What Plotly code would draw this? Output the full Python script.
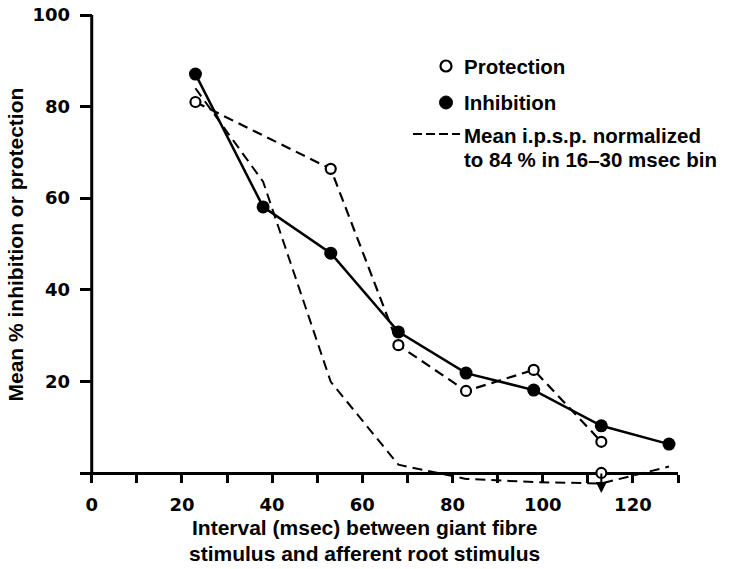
import plotly.graph_objects as go

# ---------------- data ----------------
interval = [23, 38, 53, 68, 83, 98, 113, 128]
inhibition = [87.1, 58.1, 48.0, 30.8, 21.8, 18.1, 10.3, 6.3]

protection_x = [23, 53, 68, 83, 98, 113]
protection = [81.0, 66.4, 27.9, 17.9, 22.5, 6.8]
protection_extra_x = [113]
protection_extra = [0.0]

ipsp_x = [23, 38, 53, 68, 83, 98, 113, 128]
ipsp = [84.0, 63.6, 19.9, 1.8, -1.3, -2.0, -2.3, 1.4]

x_tickvals = [0, 10, 20, 30, 40, 50, 60, 70, 80, 90, 100, 110, 120, 130]
x_ticktext = ["0", "", "20", "", "40", "", "60", "", "80", "", "100", "", "120", ""]
y_tickvals = [20, 40, 60, 80, 100]
y_ticktext = ["20", "40", "60", "80", "100"]

legend_labels = ["Protection", "Inhibition", "Mean i.p.s.p. normalized",
                 "to 84 % in 16\u201330 msec bin"]
x_title = ["Interval (msec) between giant fibre", "stimulus and afferent root stimulus"]
y_title = "Mean % inhibition or protection"

# ---------------- layout geometry ----------------
# The page body margin is removed by a small post script, so the figure
# fills the window and page pixels equal figure pixels.
W, H = 737, 569
PLOT_L, PLOT_R, PLOT_T, PLOT_B = 80, 678, 15, 505
ML, MT = PLOT_L, PLOT_T
MR, MB = W - PLOT_R, H - PLOT_B
PW, PH = PLOT_R - PLOT_L, PLOT_B - PLOT_T
X_RANGE = [-2.6, 130]
Y_RANGE = [-7, 100]


def px(xp):
    return (xp - PLOT_L) / PW


def py(yp):
    return 1 - (yp - PLOT_T) / PH


TEXT_FONT = dict(family="Liberation Sans, Arial, sans-serif", size=21,
                 color="black", weight="bold")
TICK_FONT = dict(family="DejaVu Sans, sans-serif", size=18, color="black",
                 weight="bold")

fig = go.Figure()

fig.add_trace(go.Scatter(
    x=ipsp_x, y=ipsp, mode="lines",
    line=dict(color="black", width=2, dash="10px,6px"),
    showlegend=False, hoverinfo="skip", cliponaxis=False))

fig.add_trace(go.Scatter(
    x=protection_x, y=protection, mode="lines",
    line=dict(color="black", width=2.2, dash="10px,6px"),
    showlegend=False, hoverinfo="skip", cliponaxis=False))

fig.add_trace(go.Scatter(
    x=interval, y=inhibition, mode="lines+markers",
    line=dict(color="black", width=2.5),
    marker=dict(symbol="circle", size=13, color="black"),
    showlegend=False, hoverinfo="skip", cliponaxis=False))

fig.add_trace(go.Scatter(
    x=protection_x + protection_extra_x, y=protection + protection_extra,
    mode="markers",
    marker=dict(symbol="circle", size=10, color="white",
                line=dict(color="black", width=2.2)),
    showlegend=False, hoverinfo="skip", cliponaxis=False))

# y axis line from 0 to 100 at x = 0
shapes = [
    dict(type="line", xref="x", yref="y", x0=0, x1=0, y0=-0.4, y1=100,
         line=dict(color="black", width=3), layer="below"),
]

# legend symbols
shapes += [
    dict(type="circle", xref="paper", yref="paper", xsizemode="pixel",
         ysizemode="pixel", xanchor=px(446), yanchor=py(66),
         x0=-5.5, x1=5.5, y0=-5.5, y1=5.5,
         line=dict(color="black", width=2.2), fillcolor="white"),
    dict(type="circle", xref="paper", yref="paper", xsizemode="pixel",
         ysizemode="pixel", xanchor=px(446), yanchor=py(102.5),
         x0=-6.5, x1=6.5, y0=-6.5, y1=6.5,
         line=dict(color="black", width=1), fillcolor="black"),
    dict(type="line", xref="paper", yref="paper", x0=px(413), x1=px(460),
         y0=py(134), y1=py(134),
         line=dict(color="black", width=2, dash="9px,4px")),
]

annotations = [
    # arrow below i.p.s.p. at 113 msec
    dict(x=113, y=-4.4, ax=113, ay=0.2, xref="x", yref="y", axref="x",
         ayref="y", text="", showarrow=True, arrowhead=2, arrowsize=1.1,
         arrowwidth=2, arrowcolor="black"),
    dict(x=px(15), y=py(244.5), xref="paper", yref="paper", text=y_title,
         textangle=-90, showarrow=False, xanchor="center", yanchor="middle",
         font=TEXT_FONT),
    dict(x=px(364.5), y=py(527), xref="paper", yref="paper", text=x_title[0],
         showarrow=False, xanchor="center", yanchor="middle", font=TEXT_FONT),
    dict(x=px(364.5), y=py(553), xref="paper", yref="paper", text=x_title[1],
         showarrow=False, xanchor="center", yanchor="middle", font=TEXT_FONT),
]
legend_y = [66, 102.5, 135, 159]
for lab, ly in zip(legend_labels, legend_y):
    annotations.append(dict(
        x=px(462), y=py(ly), xref="paper", yref="paper", text=lab,
        showarrow=False, xanchor="left", yanchor="middle",
        font=dict(TEXT_FONT, size=20.5)))

fig.update_layout(
    width=W, height=H,
    margin=dict(l=ML, r=MR, t=MT, b=MB, pad=0, autoexpand=False),
    paper_bgcolor="white", plot_bgcolor="white",
    showlegend=False,
    shapes=shapes,
    annotations=annotations,
    xaxis=dict(
        range=X_RANGE, anchor="free", automargin=False,
        position=(0 - Y_RANGE[0]) / (Y_RANGE[1] - Y_RANGE[0]),
        showline=True, linecolor="black", linewidth=3,
        showgrid=False, zeroline=False,
        ticks="outside", ticklen=8, tickwidth=2.5, tickcolor="black",
        tickmode="array", tickvals=x_tickvals, ticktext=x_ticktext,
        tickfont=TICK_FONT, ticklabelstandoff=6, layer="below traces",
        ticklabeloverflow="allow",
    ),
    yaxis=dict(
        range=Y_RANGE, anchor="free", automargin=False,
        position=(0 - X_RANGE[0]) / (X_RANGE[1] - X_RANGE[0]),
        showline=False, showgrid=False, zeroline=False,
        ticks="outside", ticklen=12, tickwidth=2.5, tickcolor="black",
        tickmode="array", tickvals=y_tickvals, ticktext=y_ticktext,
        tickfont=TICK_FONT, ticklabelstandoff=6, layer="below traces",
        ticklabeloverflow="allow",
    ),
)

fig.write_html(
    "out.html",
    config={"displayModeBar": False},
    post_script="document.body.style.margin='0';document.body.style.overflow='hidden';",
)
